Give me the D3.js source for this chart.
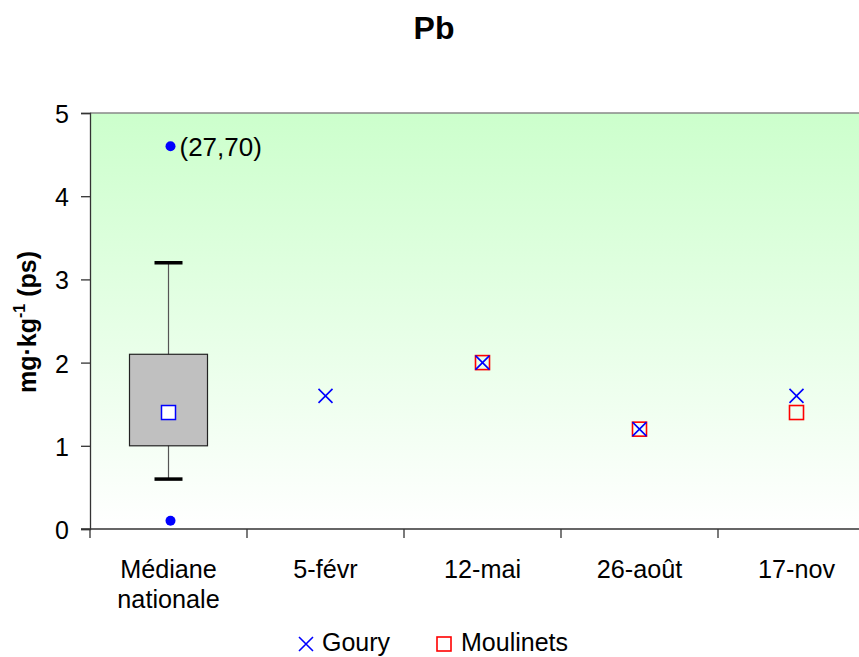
<!DOCTYPE html>
<html>
<head>
<meta charset="utf-8">
<script src="https://cdn.jsdelivr.net/npm/d3@7"></script>
<style>
  body { margin: 0; background: #fff; overflow: hidden; }
  text { font-family: Arial, "Liberation Sans", sans-serif; }
</style>
</head>
<body>
<div id="chart"></div>
<script>
// categories on the x axis
var categories = ["Médiane nationale", "5-févr", "12-mai", "26-août", "17-nov"];
var sampleDates = ["5-févr", "12-mai", "26-août", "17-nov"];
var gouryValues = [1.6, 2.0, 1.2, 1.6];
var moulinetsValues = [null, 2.0, 1.2, 1.4];

// national distribution (box plot)
var boxStats = { min: 0.6, q1: 1.0, median: 1.4, q3: 2.1, max: 3.2 };
var outliers = [0.1, 4.6];
var outlierLabels = ["", "(27,70)"];

var yTicks = [0, 1, 2, 3, 4, 5];

var width = 859, height = 657;
var margin = { top: 113, left: 90, bottom: 128 };
var bandW = 157;

var svg = d3.select("#chart").append("svg")
    .attr("width", width)
    .attr("height", height);

var x = d3.scaleBand()
    .domain(categories)
    .range([margin.left, margin.left + bandW * categories.length]);

var y = d3.scaleLinear()
    .domain([0, 5])
    .range([height - margin.bottom, margin.top]);

var plotRight = margin.left + bandW * categories.length;

// background gradient
var grad = svg.append("defs").append("linearGradient")
    .attr("id", "bg").attr("x1", 0).attr("y1", 0).attr("x2", 0).attr("y2", 1);
grad.append("stop").attr("offset", "0%").attr("stop-color", "#ccffcc");
grad.append("stop").attr("offset", "100%").attr("stop-color", "#ffffff");

svg.append("rect")
    .attr("x", margin.left).attr("y", y(5))
    .attr("width", plotRight - margin.left)
    .attr("height", y(0) - y(5))
    .attr("fill", "url(#bg)");

// top border of plot area
svg.append("line")
    .attr("x1", margin.left).attr("x2", plotRight)
    .attr("y1", y(5)).attr("y2", y(5))
    .attr("stroke", "#888").attr("stroke-width", 1.5);

// y axis
var yAxis = d3.axisLeft(y).tickValues(yTicks).tickSize(9).tickFormat(d3.format("d"));
var gy = svg.append("g")
    .attr("transform", "translate(" + margin.left + ",0)")
    .call(yAxis);
gy.select(".domain").attr("stroke", "#333").attr("stroke-width", 1.3);
gy.selectAll(".tick line").attr("stroke", "#333").attr("stroke-width", 1.3);
gy.selectAll(".tick text")
    .attr("font-size", 25)
    .attr("fill", "#000")
    .attr("x", -21)
    .attr("dy", "0.38em");

// x axis with ticks at band edges
var gx = svg.append("g")
    .attr("transform", "translate(0," + y(0) + ")");
gx.append("line")
    .attr("x1", margin.left - 9).attr("x2", plotRight)
    .attr("stroke", "#333").attr("stroke-width", 1.3);
gx.selectAll(".xtick")
    .data(categories)
    .enter().append("line")
    .attr("x1", function (d) { return x(d); })
    .attr("x2", function (d) { return x(d); })
    .attr("y1", 0).attr("y2", 9)
    .attr("stroke", "#333").attr("stroke-width", 1.3);
gx.selectAll(".xlabel")
    .data(categories)
    .enter().append("text")
    .attr("text-anchor", "middle")
    .attr("font-size", 26)
    .attr("fill", "#000")
    .attr("transform", function (d) {
        return "translate(" + (x(d) + x.bandwidth() / 2) + ",0) scale(0.97,1)";
    })
    .each(function (d) {
        var words = d === "Médiane nationale" ? ["Médiane", "nationale"] : [d];
        var t = d3.select(this);
        words.forEach(function (w, i) {
            t.append("tspan").attr("x", 0).attr("y", 49 + i * 30).text(w);
        });
    });

// box plot at the first category
var cx = x(categories[0]) + x.bandwidth() / 2;
var boxW = 78, capW = 28;

svg.append("line")
    .attr("x1", cx).attr("x2", cx)
    .attr("y1", y(boxStats.max)).attr("y2", y(boxStats.min))
    .attr("stroke", "#555").attr("stroke-width", 1.2);

svg.append("rect")
    .attr("x", cx - boxW / 2)
    .attr("y", y(boxStats.q3))
    .attr("width", boxW)
    .attr("height", y(boxStats.q1) - y(boxStats.q3))
    .attr("fill", "#c0c0c0")
    .attr("stroke", "#222").attr("stroke-width", 1.2);

svg.selectAll(".cap")
    .data([boxStats.min, boxStats.max])
    .enter().append("line")
    .attr("x1", cx - capW / 2).attr("x2", cx + capW / 2)
    .attr("y1", function (d) { return y(d); })
    .attr("y2", function (d) { return y(d); })
    .attr("stroke", "#000").attr("stroke-width", 3.5);

svg.append("rect")
    .attr("x", cx - 7).attr("y", y(boxStats.median) - 7)
    .attr("width", 14).attr("height", 14)
    .attr("fill", "#fff")
    .attr("stroke", "#0000ff").attr("stroke-width", 1.5);

svg.selectAll(".outlier")
    .data(outliers)
    .enter().append("circle")
    .attr("cx", cx + 2)
    .attr("cy", function (d) { return y(d); })
    .attr("r", 5)
    .attr("fill", "#0000ff");

svg.selectAll(".outlierLabel")
    .data(outliers)
    .enter().append("text")
    .attr("x", cx + 11)
    .attr("y", function (d) { return y(d); })
    .attr("dy", "0.36em")
    .attr("font-size", 26)
    .attr("fill", "#000")
    .text(function (d, i) { return outlierLabels[i]; });

// sample markers
var ms = 7;
function crossPath(px, py) {
    return "M" + (px - ms) + "," + (py - ms) + "L" + (px + ms) + "," + (py + ms) +
        "M" + (px - ms) + "," + (py + ms) + "L" + (px + ms) + "," + (py - ms);
}

svg.selectAll(".moulinets")
    .data(sampleDates.map(function (d, i) { return { date: d, v: moulinetsValues[i] }; })
        .filter(function (d) { return d.v != null; }))
    .enter().append("rect")
    .attr("x", function (d) { return x(d.date) + x.bandwidth() / 2 - ms; })
    .attr("y", function (d) { return y(d.v) - ms; })
    .attr("width", ms * 2).attr("height", ms * 2)
    .attr("fill", "none")
    .attr("stroke", "#ff0000").attr("stroke-width", 1.6);

svg.selectAll(".goury")
    .data(sampleDates.map(function (d, i) { return { date: d, v: gouryValues[i] }; }))
    .enter().append("path")
    .attr("d", function (d) { return crossPath(x(d.date) + x.bandwidth() / 2, y(d.v)); })
    .attr("fill", "none")
    .attr("stroke", "#0000ff").attr("stroke-width", 1.6);

// title
svg.append("text")
    .attr("x", 434).attr("y", 39)
    .attr("text-anchor", "middle")
    .attr("font-size", 32).attr("font-weight", "bold")
    .text("Pb");

// y axis title
var yt = svg.append("text")
    .attr("transform", "translate(36,322) rotate(-90)")
    .attr("text-anchor", "middle")
    .attr("font-size", 25).attr("font-weight", "bold");
yt.append("tspan").text("mg·kg");
yt.append("tspan").attr("dy", -11).attr("font-size", 16).text("-1");
yt.append("tspan").attr("dy", 11).text(" (ps)");

// legend (kept just inside the bottom edge)
var legend = svg.append("g").attr("transform", "translate(0,644)");
legend.append("path")
    .attr("d", "M" + (306 - ms) + "," + (-ms) + "L" + (306 + ms) + "," + ms +
        "M" + (306 - ms) + "," + ms + "L" + (306 + ms) + "," + (-ms))
    .attr("stroke", "#0000ff").attr("stroke-width", 1.6).attr("fill", "none");
legend.append("text")
    .attr("x", 322).attr("y", 7)
    .attr("font-size", 25)
    .text("Goury");
legend.append("rect")
    .attr("x", 444 - ms).attr("y", -ms)
    .attr("width", ms * 2).attr("height", ms * 2)
    .attr("fill", "none").attr("stroke", "#ff0000").attr("stroke-width", 1.6);
legend.append("text")
    .attr("x", 461).attr("y", 7)
    .attr("font-size", 25)
    .text("Moulinets");
</script>
</body>
</html>
